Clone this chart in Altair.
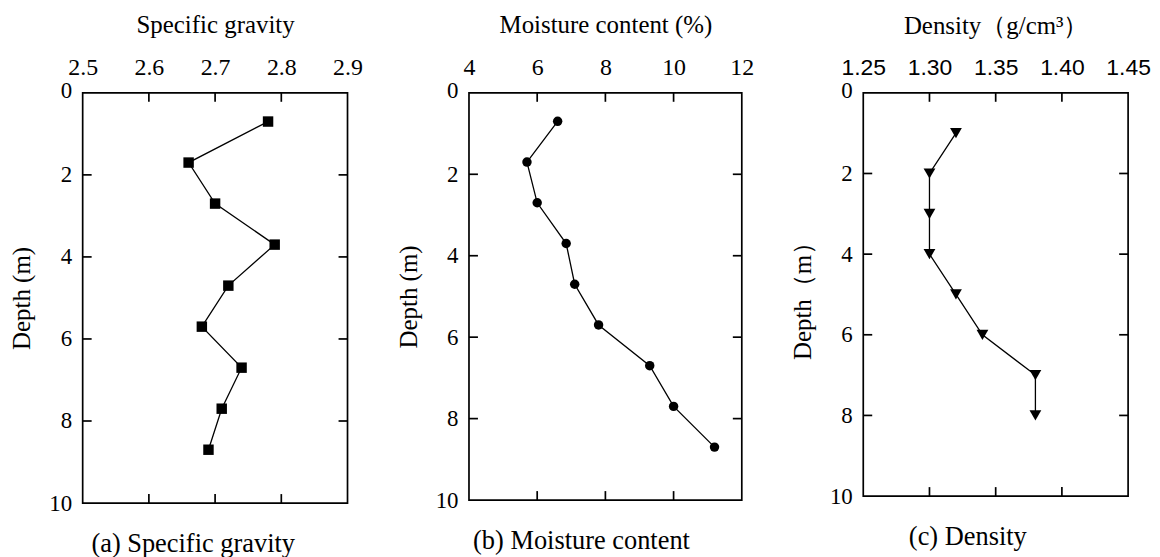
import altair as alt
import pandas as pd

# ---- data ----
depth_ab = [0.7, 1.7, 2.7, 3.7, 4.7, 5.7, 6.7, 7.7, 8.7]
specific_gravity = [2.78, 2.66, 2.70, 2.79, 2.72, 2.68, 2.74, 2.71, 2.69]
moisture_content = [6.6, 5.7, 6.0, 6.85, 7.1, 7.8, 9.3, 10.0, 11.2]
depth_c = [1, 2, 3, 4, 5, 6, 7, 8]
density = [1.32, 1.30, 1.30, 1.30, 1.32, 1.34, 1.38, 1.38]

sg_ticks = [2.5, 2.6, 2.7, 2.8, 2.9]
mc_ticks = [4, 6, 8, 10, 12]
den_ticks = [1.25, 1.30, 1.35, 1.40, 1.45]
depth_ticks = [0, 2, 4, 6, 8, 10]

SERIF = "Liberation Serif"
SANS = "Liberation Sans"
TICK = 9
LABEL_SIZE = 23
XLABEL_SIZE = 24
TITLE_SIZE = 25
CAP_SIZE = 26.5
FRAME_W = 1.7


def panel(depth, vals, ticks, fmt, xtitle, ytitle, caption, shape, size,
          w, h, tick_font, tick_size, cap_dx):
    df = pd.DataFrame({"depth": depth, "v": vals, "i": list(range(len(depth)))})
    xs = alt.Scale(domain=[ticks[0], ticks[-1]], nice=False, zero=False)
    ys = alt.Scale(domain=[0, 10], reverse=True, nice=False, zero=False)
    xax = alt.Axis(orient="top", values=ticks, format=fmt, title=xtitle,
                   labelFont=tick_font, labelFontSize=tick_size, labelPadding=13,
                   labelColor="black", labelFlush=False,
                   titleFont=SERIF, titleFontSize=TITLE_SIZE, titleFontWeight="normal",
                   titleColor="black", titlePadding=19,
                   ticks=False, domain=False, grid=False)
    yax = alt.Axis(values=depth_ticks, format="d", title=ytitle,
                   labelFont=SERIF, labelFontSize=LABEL_SIZE, labelPadding=11,
                   labelColor="black", labelFlush=False, labelBaseline="middle",
                   labelOffset={"condition": {"test": "datum.value == 0", "value": -2},
                                "value": 0},
                   titleFont=SERIF, titleFontSize=TITLE_SIZE, titleFontWeight="normal",
                   titleColor="black", titlePadding=14,
                   ticks=False, domain=False, grid=False)
    base = alt.Chart(df).encode(
        x=alt.X("v:Q", scale=xs, axis=xax),
        y=alt.Y("depth:Q", scale=ys, axis=yax),
        order="i:Q",
    )
    line = base.mark_line(color="black", strokeWidth=1.3)
    pts = base.mark_point(shape=shape, filled=True, size=size, color="black", opacity=1)

    tx = pd.DataFrame({"t": ticks[1:-1]})
    ty = pd.DataFrame({"t": depth_ticks[1:-1]})
    top = alt.Chart(tx).mark_rule(color="black", strokeWidth=FRAME_W).encode(
        x=alt.X("t:Q", scale=xs, axis=xax), y=alt.value(0), y2=alt.value(TICK))
    bot = alt.Chart(tx).mark_rule(color="black", strokeWidth=FRAME_W).encode(
        x=alt.X("t:Q", scale=xs, axis=xax), y=alt.value(h - TICK), y2=alt.value(h))
    left = alt.Chart(ty).mark_rule(color="black", strokeWidth=FRAME_W).encode(
        y=alt.Y("t:Q", scale=ys, axis=yax), x=alt.value(0), x2=alt.value(TICK))
    right = alt.Chart(ty).mark_rule(color="black", strokeWidth=FRAME_W).encode(
        y=alt.Y("t:Q", scale=ys, axis=yax), x=alt.value(w - TICK), x2=alt.value(w))

    return alt.layer(line, pts, top, bot, left, right).properties(
        width=w, height=h,
        title=alt.TitleParams(caption, orient="bottom", font=SERIF, fontSize=CAP_SIZE,
                              fontWeight="normal", color="black", anchor="middle",
                              offset=16, dx=cap_dx),
    )


a = panel(depth_ab, specific_gravity, sg_ticks, ".1f", "Specific gravity", "Depth (m)",
          "(a) Specific gravity", "square", 110, 266, 412, SERIF, XLABEL_SIZE, -22)
b = panel(depth_ab, moisture_content, mc_ticks, "d", "Moisture content (%)", "Depth (m)",
          "(b) Moisture content", "circle", 90, 274, 409, SERIF, XLABEL_SIZE, -24)
c = panel(depth_c, density, den_ticks, ".2f", "Density（g/cm³）", "Depth（m）",
          "(c) Density", "triangle-down", 140, 266, 405, SANS, 23, -28)

chart = alt.hconcat(a, b, c, spacing=122, bounds="flush").properties(
    padding={"left": 1, "top": 2, "right": 0, "bottom": 0},
    background="white",
).configure_view(stroke="black", strokeWidth=FRAME_W)

chart.save("out.html", embed_options={"renderer": "svg", "actions": False})
